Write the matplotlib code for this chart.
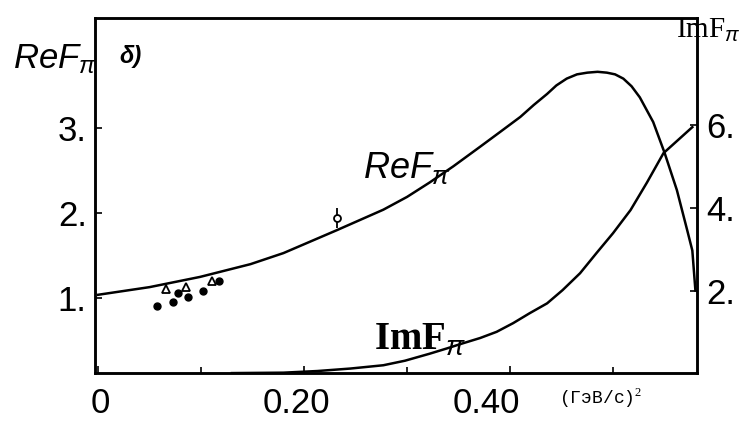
import matplotlib
matplotlib.use("Agg")
import matplotlib.pyplot as plt
import matplotlib.transforms as mtransforms

plt.rcParams["font.family"] = ["Liberation Sans", "DejaVu Sans"]
plt.rcParams["mathtext.fontset"] = "custom"
plt.rcParams["mathtext.it"] = "Liberation Sans:italic"
plt.rcParams["mathtext.rm"] = "Liberation Serif"
plt.rcParams["mathtext.bf"] = "Liberation Serif:bold"

# Re F_pi (кривая)
re_x = [0.0, 0.05, 0.099, 0.148, 0.18, 0.232, 0.277, 0.30, 0.322, 0.345,
        0.371, 0.39, 0.41, 0.423, 0.436, 0.445, 0.455, 0.465, 0.475, 0.485,
        0.494, 0.502, 0.51, 0.518, 0.526, 0.539, 0.55, 0.562, 0.572, 0.577,
        0.58]
re_y = [1.04, 1.13, 1.25, 1.40, 1.53, 1.80, 2.04, 2.19, 2.36, 2.55,
        2.78, 2.95, 3.13, 3.27, 3.40, 3.50, 3.58, 3.63, 3.65, 3.66,
        3.65, 3.63, 3.58, 3.49, 3.36, 3.07, 2.71, 2.27, 1.80, 1.56,
        1.09]

# Im F_pi (кривая)
im_x = [0.13, 0.18, 0.213, 0.245, 0.277, 0.298, 0.322, 0.339, 0.354, 0.371,
        0.387, 0.403, 0.419, 0.436, 0.451, 0.468, 0.484, 0.50, 0.517, 0.533,
        0.549, 0.577]
im_y = [0.0, 0.01, 0.05, 0.11, 0.19, 0.30, 0.47, 0.60, 0.72, 0.85,
        1.00, 1.21, 1.45, 1.69, 2.01, 2.42, 2.91, 3.39, 3.95, 4.62,
        5.33, 5.96]

# экспериментальные точки
tri_x = [0.066, 0.085, 0.111]
tri_y = [1.11, 1.13, 1.20]
dot_x = [0.057, 0.073, 0.078, 0.087, 0.102, 0.117]
dot_y = [0.91, 0.95, 1.06, 1.01, 1.08, 1.20]
open_x = [0.232]
open_y = [1.94]
open_err = [0.12]

fig = plt.figure(figsize=(7.42, 4.23), dpi=100)
ax = fig.add_axes([0.128, 0.118, 0.812, 0.839])
ax2 = ax.twinx()

ax.plot(re_x, re_y, color="black", lw=1.8)
ax2.plot(im_x, im_y, color="black", lw=1.8)

ax.plot(dot_x, dot_y, "o", color="black", ms=5)
ax.plot(tri_x, tri_y, "^", mfc="white", mec="black", mew=1.3, ms=6)
ax.errorbar(open_x, open_y, yerr=open_err, fmt="o", mfc="white", mec="black",
            ecolor="black", mew=1.3, ms=5, elinewidth=1.3, capsize=0)

ax.set_xlim(-0.003, 0.582)
ax.set_ylim(0.12, 4.29)
ax2.set_ylim(0.0, 8.6)

ax.set_xticks([0.0, 0.2, 0.4])
ax.set_xticklabels(["0", "0.20", "0.40"])
ax.set_xticks([0.1, 0.3, 0.5], minor=True)
ax.set_yticks([1, 2, 3])
ax.set_yticklabels(["1.", "2.", "3."])
ax2.set_yticks([2, 4, 6])
ax2.set_yticklabels(["2.", "4.", "6."])

for a in (ax, ax2):
    a.tick_params(direction="in", length=5, width=1.2, labelsize=25, pad=6)
    a.tick_params(which="minor", direction="in", length=4, width=1.2)
    for s in a.spines.values():
        s.set_linewidth(1.8)
ax.tick_params(axis="x", pad=10)

# подписи по оси x в оригинале сдвинуты влево от рисок
for lab, dx in zip(ax.get_xticklabels(), [2, -8, -24]):
    off = mtransforms.ScaledTranslation(dx / 100, 0, fig.dpi_scale_trans)
    lab.set_transform(lab.get_transform() + off)

fig.text(0.018, 0.86, r"$ReF_{\pi}$", fontsize=25, ha="left", va="center")
ax.text(0.04, 0.893, "δ)", transform=ax.transAxes, fontsize=17,
        fontweight="bold", fontstyle="italic", ha="left", va="center")
ax.text(0.517, 0.577, r"$ReF_{\pi}$", transform=ax.transAxes, fontsize=26,
        ha="center", va="center")
ax.text(0.54, 0.093, r"$\mathbf{ImF}_{\pi}$", transform=ax.transAxes,
        fontsize=28, ha="center", va="center")
fig.text(0.999, 0.93, r"$\mathrm{ImF}_{\pi}$", fontsize=21, ha="right",
         va="center")
fig.text(0.81, 0.06, "(ГэВ/с)$^2$", fontsize=13, family="Liberation Mono",
         ha="center", va="center")

fig.savefig("out.png", dpi=100)
